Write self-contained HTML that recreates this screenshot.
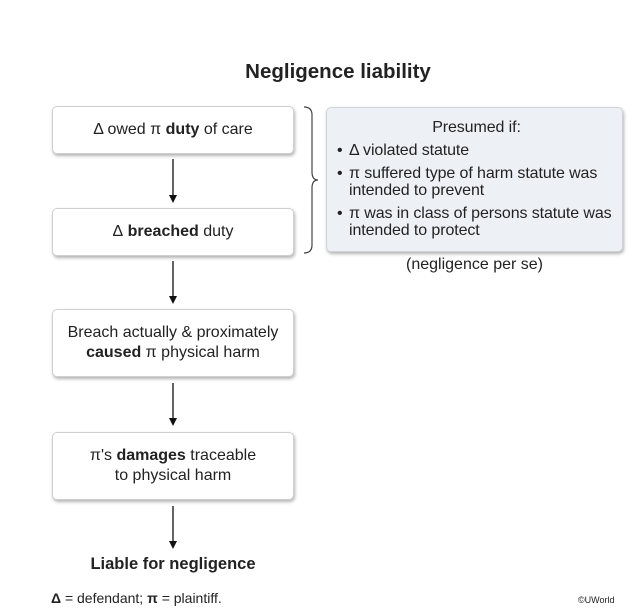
<!DOCTYPE html>
<html><head><meta charset="utf-8"><style>
html,body{margin:0;padding:0;background:#fff;}
body{width:638px;height:612px;position:relative;overflow:hidden;font-family:"Liberation Sans",Arial,sans-serif;color:#222;}
.a{position:absolute;}
.box{position:absolute;left:52px;width:242px;background:#fff;border:1px solid #d0d0d0;border-radius:5px;box-shadow:1px 2px 3px rgba(0,0,0,0.3);box-sizing:border-box;display:flex;align-items:center;justify-content:center;text-align:center;font-size:16px;line-height:20px;}
.r{left:326px;top:107px;width:297px;height:145px;background:#edf1f5;border:1px solid #d0d4d8;border-radius:5px;box-shadow:1px 2px 3px rgba(0,0,0,0.3);box-sizing:border-box;font-size:16px;line-height:17px;padding:11px 6px 0 10px;letter-spacing:-0.1px;}
.r ul{margin:0;padding:0;list-style:none;}
.r li{position:relative;padding-left:12px;margin-top:6px;}
.r li:before{content:"•";position:absolute;left:0;}
</style></head><body>
<div class="a" style="left:0;width:676px;top:60px;text-align:center;font-weight:bold;font-size:20.5px;">Negligence liability</div>

<div class="box" style="top:106px;height:48px;">Δ owed π&nbsp;<b>duty</b>&nbsp;of care</div>
<div class="box" style="top:208px;height:48px;">Δ&nbsp;<b>breached</b>&nbsp;duty</div>
<div class="box" style="top:309px;height:68px;"><div>Breach actually &amp; proximately<br><b>caused</b> π physical harm</div></div>
<div class="box" style="top:432px;height:68px;"><div>π's <b>damages</b> traceable<br>to physical harm</div></div>

<svg class="a" style="left:0;top:0" width="638" height="612">
<g stroke="#111" stroke-width="1.3" fill="#111">
<line x1="173" y1="159" x2="173" y2="196"/><polygon points="169,195 177,195 173,203" stroke="none"/>
<line x1="173" y1="261" x2="173" y2="297"/><polygon points="169,296 177,296 173,304" stroke="none"/>
<line x1="173" y1="383" x2="173" y2="419"/><polygon points="169,418 177,418 173,426" stroke="none"/>
<line x1="173" y1="506" x2="173" y2="542"/><polygon points="169,541 177,541 173,549" stroke="none"/>
</g>
<path d="M304,107 Q312,107 312,115 L312,172 Q312,180 318,180 Q312,180 312,188 L312,245 Q312,253 304,253" fill="none" stroke="#444" stroke-width="1.2"/>
</svg>

<div class="a r">
<div style="text-align:center;">Presumed if:</div>
<ul>
<li>Δ violated statute</li>
<li>π suffered type of harm statute was intended to prevent</li>
<li>π was in class of persons statute was intended to protect</li>
</ul>
</div>
<div class="a" style="left:326px;width:297px;top:256px;text-align:center;font-size:16px;">(negligence per se)</div>

<div class="a" style="left:52px;width:242px;top:555px;text-align:center;font-weight:bold;font-size:16.5px;">Liable for negligence</div>
<div class="a" style="left:51px;top:590px;font-size:14px;"><b>Δ</b> = defendant; <b>π</b> = plaintiff.</div>
<div class="a" style="left:578px;top:595px;font-size:9px;">©UWorld</div>
</body></html>
